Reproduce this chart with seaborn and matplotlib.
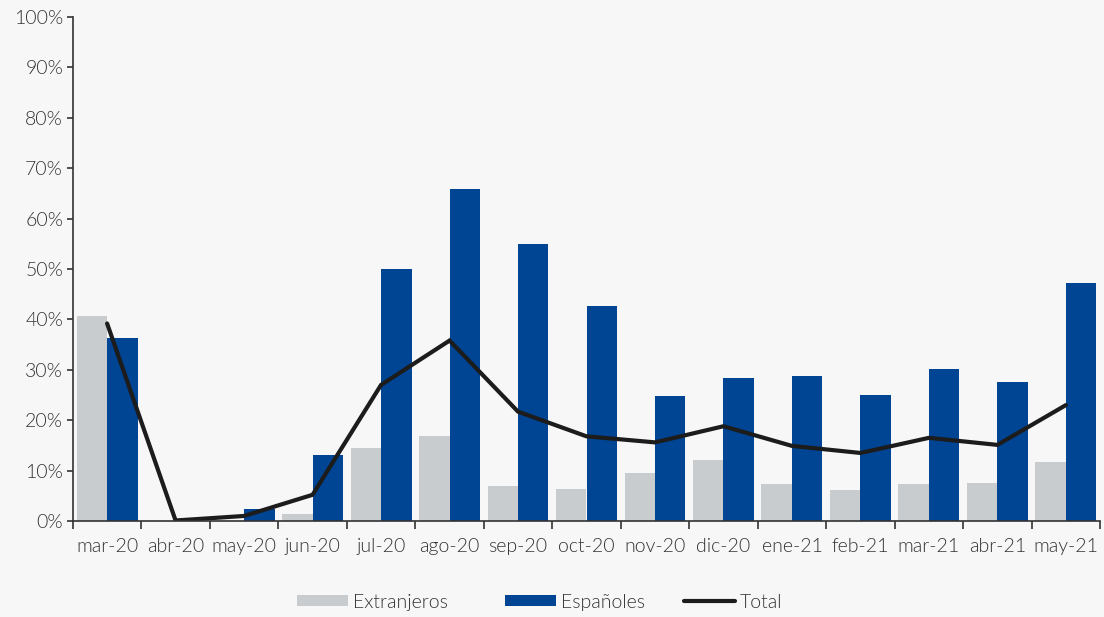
import matplotlib
matplotlib.use("Agg")
import matplotlib.pyplot as plt
import seaborn as sns
import pandas as pd
import numpy as np
from matplotlib.patches import Patch
from matplotlib.lines import Line2D
from matplotlib.ticker import FixedLocator, PercentFormatter

months = ["mar-20", "abr-20", "may-20", "jun-20", "jul-20", "ago-20", "sep-20", "oct-20",
          "nov-20", "dic-20", "ene-21", "feb-21", "mar-21", "abr-21", "may-21"]
extranjeros = [40.6, 0.0, 0.0, 1.3, 14.4, 16.8, 6.9, 6.3, 9.6, 12.1, 7.4, 6.2, 7.4, 7.5, 11.8]
espanoles = [36.3, 0.0, 2.3, 13.0, 50.0, 65.9, 55.0, 42.7, 24.8, 28.4, 28.8, 25.0, 30.1, 27.6, 47.2]
total = [39.2, 0.1, 1.0, 5.2, 27.0, 35.8, 21.7, 16.8, 15.6, 18.8, 14.9, 13.5, 16.5, 15.1, 23.0]

series_names = ["Extranjeros", "Españoles"]
colors = {"Extranjeros": "#c8cccf", "Españoles": "#004494"}
line_color = "#1c1c1c"
bg = "#f7f7f7"
text_color = "#333333"

sns.set_theme(style="white")
plt.rcParams["font.family"] = ["Lato", "DejaVu Sans"]
plt.rcParams["font.weight"] = 300

df = pd.DataFrame({
    "mes": months * 2,
    "serie": ["Extranjeros"] * len(months) + ["Españoles"] * len(months),
    "valor": extranjeros + espanoles,
})
df_tot = pd.DataFrame({"mes": months, "valor": total})

fig = plt.figure(figsize=(11.04, 6.17), dpi=100, facecolor=bg)
ax = fig.add_axes([0.066, 0.1556, 0.9305, 0.8168])
ax.set_facecolor(bg)

sns.barplot(data=df, x="mes", y="valor", hue="serie", hue_order=series_names,
            palette=colors, width=0.89, gap=0, saturation=1, ax=ax, legend=False,
            edgecolor="none")
ax.plot(np.arange(len(months)), df_tot["valor"], color=line_color, lw=3, solid_joinstyle="miter")

ax.set_xlim(-0.5, len(months) - 0.5)
ax.set_ylim(0, 100)
ax.set_yticks(np.arange(0, 101, 10))
ax.yaxis.set_major_formatter(PercentFormatter(decimals=0))
ax.set_xlabel("")
ax.set_ylabel("")

ax.xaxis.set_minor_locator(FixedLocator(np.arange(-0.5, len(months), 1.0)))
ax.tick_params(axis="x", which="major", length=0, pad=12, labelsize=14, labelcolor=text_color)
ax.tick_params(axis="x", which="minor", length=6, width=1.2, color="#333333", direction="out", bottom=True)
ax.tick_params(axis="y", which="major", length=4, width=1.2, color="#333333", direction="out", left=True,
               labelsize=14, labelcolor=text_color, pad=3)

for s in ["top", "right"]:
    ax.spines[s].set_visible(False)
for s in ["left", "bottom"]:
    ax.spines[s].set_color("#333333")
    ax.spines[s].set_linewidth(1.2)

entries = [
    (Patch(facecolor=colors["Extranjeros"], edgecolor="none"), "Extranjeros", 298),
    (Patch(facecolor=colors["Españoles"], edgecolor="none"), "Españoles", 506),
    (Line2D([0], [0], color=line_color, lw=3), "Total", 685),
]
W = 1104.0
for h, lab, xp in entries:
    fig.legend([h], [lab], loc="center left", bbox_to_anchor=(xp / W - 0.0075, 0.024),
               frameon=False, fontsize=14, labelcolor=text_color, handlelength=2.6,
               handleheight=0.5, handletextpad=0.25, borderaxespad=0)

fig.savefig("out.png", dpi=100, facecolor=bg)
